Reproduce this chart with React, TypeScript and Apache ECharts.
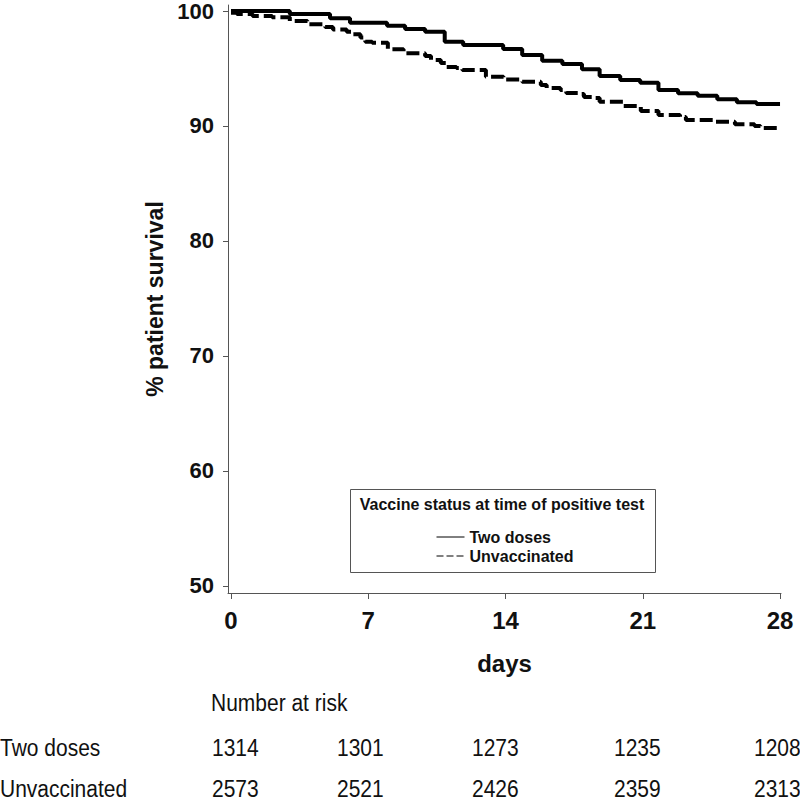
import React, { useEffect, useRef } from "react";
import * as echarts from "echarts";

// ---- data ----
const dayTicks = [0, 7, 14, 21, 28];
const survivalTicks = [50, 60, 70, 80, 90, 100];

const twoDosesDays = [0, 3.0, 5.05, 6.07, 7.96, 8.88, 9.9, 10.9, 11.84, 13.88, 14.85, 15.87, 16.9, 17.9, 18.8, 19.85, 20.87, 21.8, 22.8, 23.8, 24.8, 25.8, 26.8, 28];
const twoDosesSurvival = [100, 99.74, 99.37, 98.98, 98.72, 98.43, 98.2, 97.33, 97.04, 96.7, 96.17, 95.68, 95.39, 94.93, 94.35, 94.0, 93.77, 93.13, 92.84, 92.63, 92.32, 92.06, 91.91, 91.91];

const unvaccinatedDays = [0, 0.3, 1.1, 2.1, 3.0, 3.9, 4.8, 5.2, 5.9, 6.2, 6.6, 6.85, 7.2, 8.0, 8.8, 9.9, 10.2, 10.7, 11.0, 11.5, 11.8, 13.0, 13.9, 14.85, 15.8, 16.1, 16.8, 17.1, 17.7, 18.0, 18.5, 18.8, 20.0, 20.9, 21.8, 22.9, 23.2, 24.7, 25.7, 26.7, 27.0, 28];
const unvaccinatedSurvival = [99.85, 99.74, 99.57, 99.45, 99.13, 98.84, 98.6, 98.4, 98.2, 97.97, 97.7, 97.33, 97.24, 96.67, 96.32, 96.09, 95.74, 95.48, 95.13, 95.05, 94.87, 94.29, 94.04, 93.85, 93.57, 93.3, 93.13, 92.87, 92.78, 92.52, 92.43, 92.1, 91.74, 91.3, 90.96, 90.78, 90.52, 90.37, 90.15, 90.0, 89.83, 89.8];

const seriesNames = ["Two doses", "Unvaccinated"];
const riskTitle = "Number at risk";
const riskTwoDoses = [1314, 1301, 1273, 1235, 1208];
const riskUnvaccinated = [2573, 2521, 2426, 2359, 2313];

// ---- layout ----
const FONT = "'Liberation Sans', Arial, Helvetica, sans-serif";
const riskColX = [212, 337, 472, 614, 754];
const riskRowY = [748, 789];
const riskTitleY = 703;
const TABLE_SCALE_Y = 1.15;

function zip(xs: number[], ys: number[]) {
  return xs.map((x, i) => [x, ys[i]]);
}

function tableText(text: string, x: number, y: number) {
  return {
    type: "text",
    x,
    y,
    scaleY: TABLE_SCALE_Y,
    silent: true,
    style: {
      text,
      fill: "#111",
      fontSize: 21,
      fontFamily: FONT,
      fontWeight: "normal",
      align: "left",
      textAlign: "left",
      verticalAlign: "middle",
      textVerticalAlign: "middle",
    },
  };
}

export default function App() {
  const ref = useRef<HTMLDivElement>(null);

  useEffect(() => {
    const chart = echarts.init(ref.current!, null, { renderer: "svg" });

    const graphics: any[] = [
      {
        type: "rect",
        silent: true,
        shape: { x: 350.5, y: 489.5, width: 305, height: 83 },
        style: { fill: "none", stroke: "#555", lineWidth: 1 },
      },
      {
        type: "text",
        x: 502,
        y: 504,
        silent: true,
        style: {
          text: "Vaccine status at time of positive test",
          fill: "#111",
          fontSize: 16,
          fontWeight: "bold",
          fontFamily: FONT,
          align: "center",
          textAlign: "center",
          verticalAlign: "middle",
          textVerticalAlign: "middle",
        },
      },
      tableText(riskTitle, 211, riskTitleY),
      tableText(seriesNames[0], 0, riskRowY[0]),
      tableText(seriesNames[1], 0, riskRowY[1]),
    ];
    riskTwoDoses.forEach((v, i) => graphics.push(tableText(String(v), riskColX[i], riskRowY[0])));
    riskUnvaccinated.forEach((v, i) => graphics.push(tableText(String(v), riskColX[i], riskRowY[1])));

    chart.setOption({
      animation: false,
      backgroundColor: "#ffffff",
      grid: { left: 228, right: 19, top: 5, bottom: 211, containLabel: false },
      xAxis: {
        type: "value",
        min: -0.153,
        max: 28.05,
        axisLine: { show: true, onZero: false, lineStyle: { color: "#555", width: 1 } },
        axisTick: { show: true, length: 6, customValues: dayTicks, lineStyle: { color: "#555" } },
        axisLabel: {
          customValues: dayTicks,
          margin: 15,
          fontSize: 24,
          fontWeight: "bold",
          fontFamily: FONT,
          color: "#111",
        },
        splitLine: { show: false },
        name: "days",
        nameLocation: "middle",
        nameGap: 58,
        nameTextStyle: { fontSize: 24, fontWeight: "bold", fontFamily: FONT, color: "#111" },
      },
      yAxis: {
        type: "value",
        min: 49.39,
        max: 100.52,
        axisLine: { show: true, onZero: false, lineStyle: { color: "#555", width: 1 } },
        axisTick: { show: true, length: 5, customValues: survivalTicks, lineStyle: { color: "#555" } },
        axisLabel: {
          customValues: survivalTicks,
          margin: 14,
          fontSize: 22,
          fontWeight: "bold",
          fontFamily: FONT,
          color: "#111",
        },
        splitLine: { show: false },
        name: "% patient survival",
        nameLocation: "middle",
        nameRotate: 90,
        nameGap: 56,
        nameTextStyle: { fontSize: 23, fontWeight: "bold", fontFamily: FONT, color: "#111" },
      },
      legend: {
        orient: "vertical",
        left: 431,
        top: 524,
        itemWidth: 28,
        itemHeight: 14,
        itemGap: 3,
        selectedMode: false,
        itemStyle: { opacity: 0, borderWidth: 0 },
        textStyle: { fontFamily: FONT, fontWeight: "bold", fontSize: 16, color: "#111" },
        data: [
          { name: seriesNames[0], itemStyle: { opacity: 0, borderWidth: 0 }, lineStyle: { width: 1, color: "#000" } },
          { name: seriesNames[1], itemStyle: { opacity: 0, borderWidth: 0 }, lineStyle: { width: 1, color: "#000", type: [7, 3] } },
        ],
      },
      series: [
        {
          name: seriesNames[0],
          type: "line",
          step: "end",
          data: zip(twoDosesDays, twoDosesSurvival),
          symbol: "none",
          showSymbol: false,
          silent: true,
          itemStyle: { color: "#000" },
          lineStyle: { color: "#000", width: 4 },
        },
        {
          name: seriesNames[1],
          type: "line",
          step: "end",
          data: zip(unvaccinatedDays, unvaccinatedSurvival),
          symbol: "none",
          showSymbol: false,
          silent: true,
          itemStyle: { color: "#000" },
          lineStyle: { color: "#000", width: 4, type: [13, 5] },
        },
      ],
      graphic: graphics,
    });

    return () => chart.dispose();
  }, []);

  return (
    <div
      ref={ref}
      style={{ position: "fixed", left: 0, top: 0, width: 800, height: 804, background: "#fff" }}
    />
  );
}
